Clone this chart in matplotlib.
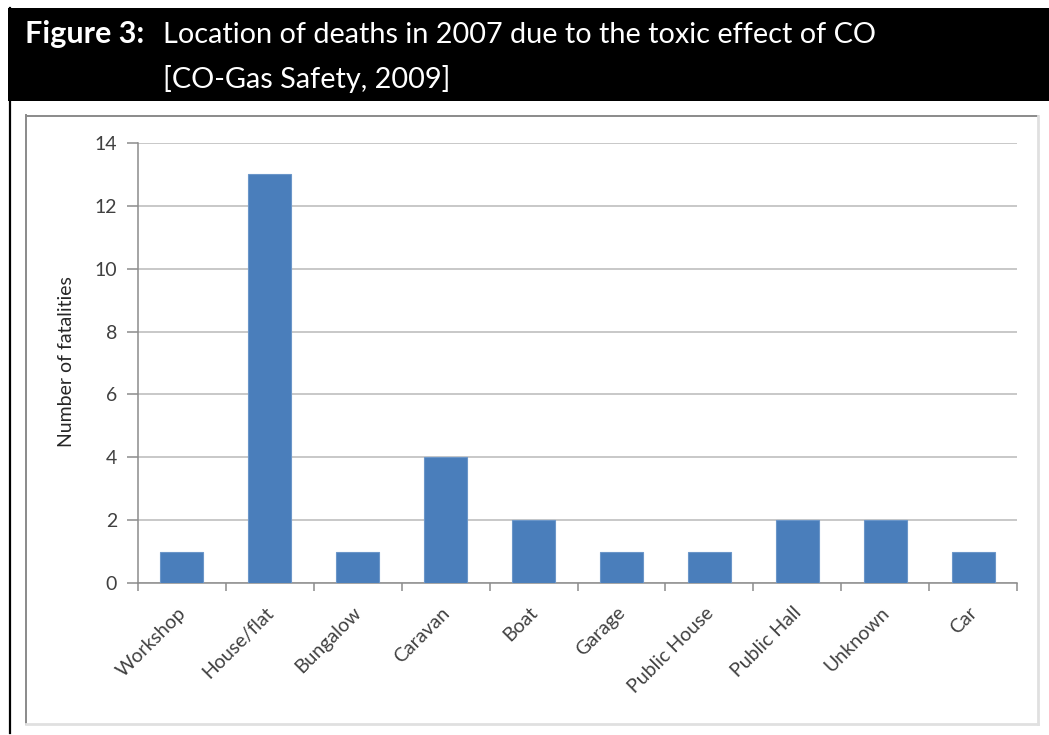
import matplotlib
matplotlib.use("Agg")
import matplotlib.pyplot as plt
from matplotlib.patches import Rectangle
from matplotlib.lines import Line2D
import matplotlib.transforms as mtransforms

categories = ["Workshop", "House/flat", "Bungalow", "Caravan", "Boat", "Garage",
              "Public House", "Public Hall", "Unknown", "Car"]
fatalities = [1, 13, 1, 4, 2, 1, 1, 2, 2, 1]
y_ticks = [0, 2, 4, 6, 8, 10, 12, 14]

W, H = 1049, 735
fig = plt.figure(figsize=(W / 100, H / 100), dpi=100)
fig.patch.set_facecolor("white")


def fx(px):
    return px / W


def fy(py):
    return 1 - py / H


# Header band and outer frame line
fig.patches.append(Rectangle((fx(8), fy(101)), fx(W - 8), (101 - 8) / H,
                             transform=fig.transFigure, facecolor="black",
                             edgecolor="none", zorder=0))
fig.lines.append(Line2D([fx(9.5), fx(9.5)], [fy(8), fy(733)],
                        transform=fig.transFigure, color="black", lw=1.6))

# Chart frame: darker top/left, lighter bottom/right
fig.lines.append(Line2D([fx(26), fx(1038)], [fy(115.5), fy(115.5)],
                        transform=fig.transFigure, color="#8a8a8a", lw=1.4))
fig.lines.append(Line2D([fx(26), fx(26)], [fy(115), fy(724)],
                        transform=fig.transFigure, color="#8a8a8a", lw=1.4))
fig.lines.append(Line2D([fx(1038), fx(1038)], [fy(116), fy(724)],
                        transform=fig.transFigure, color="#e0e0e0", lw=2.0))
fig.lines.append(Line2D([fx(26), fx(1038)], [fy(724), fy(724)],
                        transform=fig.transFigure, color="#e0e0e0", lw=2.0))

# Title
title_font = ["Lato", "DejaVu Sans"]
fig.text(fx(25), fy(43), "Figure 3:", color="white", fontsize=22,
         fontweight="bold", family=title_font, va="baseline", ha="left")
fig.text(fx(163), fy(43), "Location of deaths in 2007 due to the toxic effect of CO",
         color="white", fontsize=20.8, family=title_font, va="baseline", ha="left")
fig.text(fx(163), fy(88), "[CO-Gas Safety, 2009]",
         color="white", fontsize=20.8, family=title_font, va="baseline", ha="left")

# Plot area
ax = fig.add_axes([fx(138), fy(583), fx(1017 - 138), (583 - 143) / H])
x = list(range(len(categories)))
ax.bar(x, fatalities, width=0.49, color="#4a7ebb", edgecolor="#6b96c9",
       linewidth=0.8, zorder=3)
ax.set_xlim(-0.5, len(categories) - 0.5)
ax.set_ylim(0, 14)
ax.set_yticks(y_ticks)
ax.yaxis.grid(True, color="#c4c4c4", lw=1.3)
ax.set_axisbelow(True)

label_font = ["Lato", "DejaVu Sans"]
ax.tick_params(axis="y", length=8, color="#8c8c8c", width=1.1, pad=7,
               labelsize=14, labelcolor="#404040")
for t in ax.get_yticklabels():
    t.set_family(label_font)

# Category boundary ticks on the x axis
ax.set_xticks([i - 0.5 for i in range(len(categories) + 1)], minor=False)
ax.set_xticklabels([])
ax.tick_params(axis="x", which="major", length=6, color="#8c8c8c", width=1.1)
offset = mtransforms.ScaledTranslation(0.01, -0.27, fig.dpi_scale_trans)
for i, name in enumerate(categories):
    ax.text(i, 0, name, rotation=45, ha="right", va="center",
            rotation_mode="anchor", fontsize=14, color="#404040",
            family=label_font,
            transform=ax.get_xaxis_transform() + offset)

for side in ["top", "right"]:
    ax.spines[side].set_visible(False)
ax.spines["left"].set_color("#8c8c8c")
ax.spines["bottom"].set_color("#8c8c8c")
ax.spines["left"].set_linewidth(1.1)
ax.spines["bottom"].set_linewidth(1.1)

fig.text(fx(67), fy(362), "Number of fatalities", rotation=90, ha="center",
         va="center", fontsize=14, color="#262626", family=label_font)

fig.savefig("out.png", dpi=100, facecolor="white")
